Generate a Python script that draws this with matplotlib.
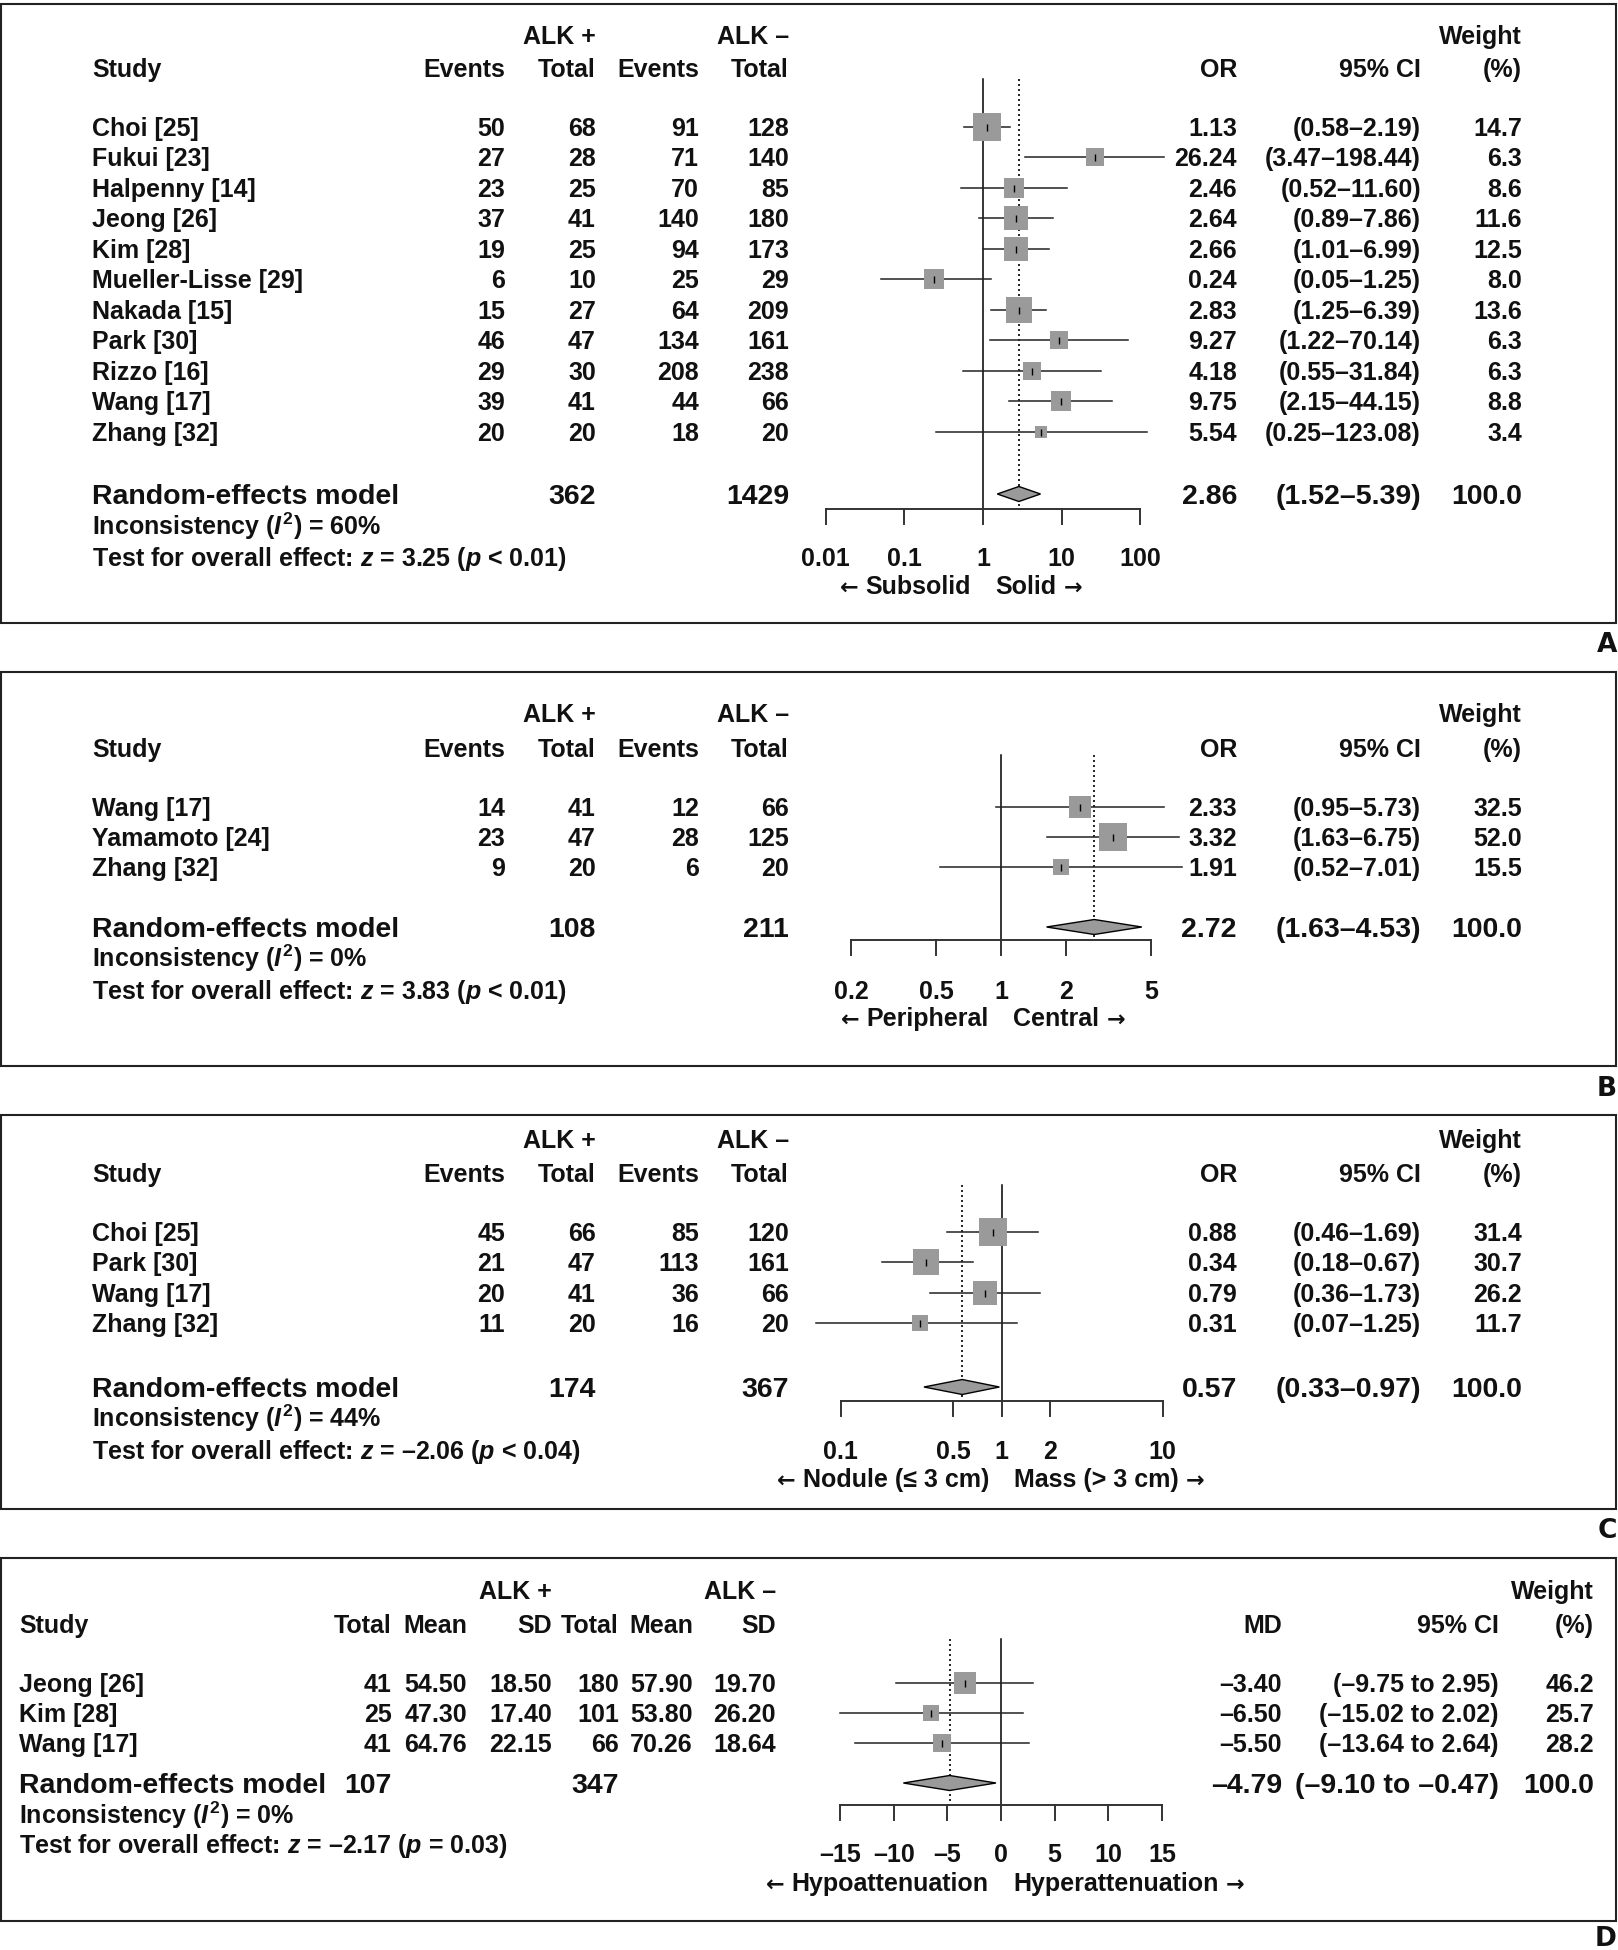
import numpy as np
import matplotlib
matplotlib.use("Agg")
import matplotlib.pyplot as plt
from matplotlib.patches import Rectangle

plt.rcParams['font.family'] = ['Liberation Sans', 'DejaVu Sans']
plt.rcParams['font.weight'] = 'bold'
plt.rcParams['mathtext.fontset'] = 'custom'
plt.rcParams['mathtext.rm'] = 'Liberation Sans:bold'
plt.rcParams['mathtext.it'] = 'Liberation Sans:italic:bold'
plt.rcParams['mathtext.bf'] = 'Liberation Sans:bold'

# ---- panel A: subsolid vs solid ----
studiesA = ["Choi [25]", "Fukui [23]", "Halpenny [14]", "Jeong [26]", "Kim [28]",
            "Mueller-Lisse [29]", "Nakada [15]", "Park [30]", "Rizzo [16]",
            "Wang [17]", "Zhang [32]"]
ev_posA = [50, 27, 23, 37, 19, 6, 15, 46, 29, 39, 20]
tot_posA = [68, 28, 25, 41, 25, 10, 27, 47, 30, 41, 20]
ev_negA = [91, 71, 70, 140, 94, 25, 64, 134, 208, 44, 18]
tot_negA = [128, 140, 85, 180, 173, 29, 209, 161, 238, 66, 20]
orA = [1.13, 26.24, 2.46, 2.64, 2.66, 0.24, 2.83, 9.27, 4.18, 9.75, 5.54]
loA = [0.58, 3.47, 0.52, 0.89, 1.01, 0.05, 1.25, 1.22, 0.55, 2.15, 0.25]
hiA = [2.19, 198.44, 11.60, 7.86, 6.99, 1.25, 6.39, 70.14, 31.84, 44.15, 123.08]
wA = [14.7, 6.3, 8.6, 11.6, 12.5, 8.0, 13.6, 6.3, 6.3, 8.8, 3.4]
sumA = [362, 1429, 2.86, 1.52, 5.39]
statsA = ["60%", "3.25", "< 0.01"]
ticksA = [0.01, 0.1, 1, 10, 100]
tlabA = ["0.01", "0.1", "1", "10", "100"]

# ---- panel B: peripheral vs central ----
studiesB = ["Wang [17]", "Yamamoto [24]", "Zhang [32]"]
ev_posB = [14, 23, 9]
tot_posB = [41, 47, 20]
ev_negB = [12, 28, 6]
tot_negB = [66, 125, 20]
orB = [2.33, 3.32, 1.91]
loB = [0.95, 1.63, 0.52]
hiB = [5.73, 6.75, 7.01]
wB = [32.5, 52.0, 15.5]
sumB = [108, 211, 2.72, 1.63, 4.53]
statsB = ["0%", "3.83", "< 0.01"]
ticksB = [0.2, 0.5, 1, 2, 5]
tlabB = ["0.2", "0.5", "1", "2", "5"]

# ---- panel C: nodule vs mass ----
studiesC = ["Choi [25]", "Park [30]", "Wang [17]", "Zhang [32]"]
ev_posC = [45, 21, 20, 11]
tot_posC = [66, 47, 41, 20]
ev_negC = [85, 113, 36, 16]
tot_negC = [120, 161, 66, 20]
orC = [0.88, 0.34, 0.79, 0.31]
loC = [0.46, 0.18, 0.36, 0.07]
hiC = [1.69, 0.67, 1.73, 1.25]
wC = [31.4, 30.7, 26.2, 11.7]
sumC = [174, 367, 0.57, 0.33, 0.97]
statsC = ["44%", "\u20132.06", "< 0.04"]
ticksC = [0.1, 0.5, 1, 2, 10]
tlabC = ["0.1", "0.5", "1", "2", "10"]

# ---- panel D: attenuation (mean difference) ----
studiesD = ["Jeong [26]", "Kim [28]", "Wang [17]"]
tot_posD = [41, 25, 41]
mean_posD = [54.50, 47.30, 64.76]
sd_posD = [18.50, 17.40, 22.15]
tot_negD = [180, 101, 66]
mean_negD = [57.90, 53.80, 70.26]
sd_negD = [19.70, 26.20, 18.64]
mdD = [-3.40, -6.50, -5.50]
loD = [-9.75, -15.02, -13.64]
hiD = [2.95, 2.02, 2.64]
wD = [46.2, 25.7, 28.2]
sumD = [107, 347, -4.79, -9.10, -0.47]
statsD = ["0%", "\u20132.17", "= 0.03"]
ticksD = [-15, -10, -5, 0, 5, 10, 15]
tlabD = ["\u201315", "\u201310", "\u20135", "0", "5", "10", "15"]

W, H, DPI = 1618, 1950, 100
FS = 18
FSB = 20.5
GRAY = '#9a9a9a'
INK = '#111111'

fig = plt.figure(figsize=(W / DPI, H / DPI), dpi=DPI)
canvas = fig.add_axes([0, 0, 1, 1])
canvas.set_xlim(0, W)
canvas.set_ylim(H, 0)
canvas.axis('off')
renderer = fig.canvas.get_renderer()


def put(x, y, s, ha='right', size=FS, **kw):
    canvas.text(x, y + 0.36 * size * DPI / 72, s, ha=ha, va='baseline',
                fontsize=size, fontweight='bold', color=INK, **kw)


def neg(v, fmt="{:.2f}"):
    return fmt.format(v).replace('-', '\u2013')


def direction(ax, null, y, word, side):
    # word next to the null line, arrow (DejaVu glyph, larger) on the outer side
    yb = y + 0.36 * FS * DPI / 72
    sign = -1 if side == 'left' else 1
    t = ax.annotate(word, (null, yb), xytext=(sign * 9, 0), textcoords='offset points',
                    ha=side == 'left' and 'right' or 'left', va='baseline',
                    fontsize=FS, fontweight='bold', color=INK)
    wpt = t.get_window_extent(renderer).width * 72 / DPI
    arrow = '\u2190' if side == 'left' else '\u2192'
    ax.annotate(arrow, (null, yb), xytext=(sign * (9 + wpt + 5), 0),
                textcoords='offset points', ha=side == 'left' and 'right' or 'left',
                va='baseline', fontsize=FS - 2, fontweight='bold', color=INK,
                family='DejaVu Sans')


def forest(top, bottom, px0, scale, log, rows_y, est, lo, hi, w, side_max,
           s_y, s, vtop, axis_y, ticks, tlabels, tick_y, dir_y, left_lab, right_lab):
    null = 1 if log else 0
    ax = fig.add_axes([620 / W, 1 - bottom / H, 700 / W, (bottom - top) / H])
    if log:
        ax.set_xscale('log')
        ax.set_xlim(10 ** ((620 - px0) / scale), 10 ** ((1320 - px0) / scale))
    else:
        ax.set_xlim((620 - px0) / scale, (1320 - px0) / scale)
    ax.set_ylim(bottom, top)
    ax.axis('off')

    wmax = max(w)
    for y, e, l, h, ww in zip(rows_y, est, lo, hi, w):
        ax.plot([l, h], [y, y], color='#222222', lw=1.1, zorder=2, clip_on=False)
        side = side_max * np.sqrt(ww / wmax) * 72 / DPI
        ax.scatter([e], [y], marker='s', s=side ** 2, color=GRAY, linewidths=0, zorder=3)
        ax.scatter([e], [y], marker='|', s=(7 * 72 / DPI) ** 2, color='black',
                   linewidths=1.0, zorder=4)

    ax.plot([null, null], [vtop, axis_y], color='black', lw=1.1, zorder=1)
    ax.plot([s[2], s[2]], [vtop, axis_y], color='black', lw=1.2,
            ls=(0, (1.2, 1.8)), zorder=1)
    ax.fill([s[3], s[2], s[4], s[2]], [s_y, s_y - 7.5, s_y, s_y + 7.5],
            facecolor=GRAY, edgecolor='black', lw=1.0, zorder=3)

    ax.plot([ticks[0], ticks[-1]], [axis_y, axis_y], color='#333333', lw=1.4)
    for t, lab in zip(ticks, tlabels):
        ax.plot([t, t], [axis_y, axis_y + 15], color='#333333', lw=1.4)
        ax.text(t, tick_y + 0.36 * FS * DPI / 72, lab, ha='center', va='baseline',
                fontsize=FS, fontweight='bold', color=INK)
    direction(ax, null, dir_y, left_lab, 'left')
    direction(ax, null, dir_y, right_lab, 'right')


def binary_panel(hdr1, hdr2, row0, step, sum_y, inc_y, test_y,
                 studies, ep, tp, en, tn, est, lo, hi, w, summ, stats):
    put(596, hdr1, "ALK +")
    put(789, hdr1, "ALK \u2013")
    put(1522, hdr1, "Weight")
    put(92, hdr2, "Study", ha='left')
    for x, lab in zip([505, 596, 699, 789, 1237, 1421, 1522],
                      ["Events", "Total", "Events", "Total", "OR", "95% CI", "(%)"]):
        put(x, hdr2, lab)
    rows_y = [row0 + i * step for i in range(len(studies))]
    for y, name, a, b, c, d, e, l, h, ww in zip(rows_y, studies, ep, tp, en, tn,
                                                est, lo, hi, w):
        put(92, y, name, ha='left')
        put(505, y, str(a))
        put(596, y, str(b))
        put(699, y, str(c))
        put(789, y, str(d))
        put(1237, y, "{:.2f}".format(e))
        put(1421, y, "({:.2f}\u2013{:.2f})".format(l, h))
        put(1522, y, "{:.1f}".format(ww))
    put(92, sum_y, "Random-effects model", ha='left', size=FSB)
    put(596, sum_y, str(summ[0]), size=FSB)
    put(789, sum_y, str(summ[1]), size=FSB)
    put(1237, sum_y, "{:.2f}".format(summ[2]), size=FSB)
    put(1421, sum_y, "({:.2f}\u2013{:.2f})".format(summ[3], summ[4]), size=FSB)
    put(1522, sum_y, "100.0", size=FSB)
    put(92, inc_y, "Inconsistency ($I^2$) = " + stats[0], ha='left')
    put(92, test_y, "Test for overall effect: $z$ = " + stats[1] + " ($p$ " + stats[2] + ")",
        ha='left')
    return rows_y


# Panel A
ryA = binary_panel(35, 68, 127, 30.47, 494, 526, 557,
                   studiesA, ev_posA, tot_posA, ev_negA, tot_negA, orA, loA, hiA, wA,
                   sumA, statsA)
forest(4, 623, 983, 78.6, True, ryA, orA, loA, hiA, wA, 27, 494, sumA,
       79, 509, ticksA, tlabA, 557, 585, "Subsolid", "Solid")

# Panel B
ryB = binary_panel(713, 748, 807, 30, 927, 958, 990,
                   studiesB, ev_posB, tot_posB, ev_negB, tot_negB, orB, loB, hiB, wB,
                   sumB, statsB)
forest(672, 1066, 1001, 214.6, True, ryB, orB, loB, hiB, wB, 27.5, 927, sumB,
       755, 940, ticksB, tlabB, 990, 1017, "Peripheral", "Central")

# Panel C
ryC = binary_panel(1139, 1173, 1232, 30.4, 1387, 1418, 1450,
                   studiesC, ev_posC, tot_posC, ev_negC, tot_negC, orC, loC, hiC, wC,
                   sumC, statsC)
forest(1115, 1509, 1001.5, 161, True, ryC, orC, loC, hiC, wC, 27, 1387, sumC,
       1185, 1401, ticksC, tlabC, 1450, 1478,
       "Nodule (\u2264 3 cm)", "Mass (> 3 cm)")

# Panel D
put(552, 1590, "ALK +")
put(776, 1590, "ALK \u2013")
put(1594, 1590, "Weight")
put(19, 1624, "Study", ha='left')
for x, lab in zip([392, 467, 552, 619, 693, 776, 1282, 1499, 1594],
                  ["Total", "Mean", "SD", "Total", "Mean", "SD", "MD", "95% CI", "(%)"]):
    put(x, 1624, lab)
ryD = [1683 + i * 30 for i in range(len(studiesD))]
for y, name, a, b, c, d, e, f, m, l, h, ww in zip(ryD, studiesD, tot_posD, mean_posD,
                                                  sd_posD, tot_negD, mean_negD, sd_negD,
                                                  mdD, loD, hiD, wD):
    put(19, y, name, ha='left')
    put(392, y, str(a))
    put(467, y, "{:.2f}".format(b))
    put(552, y, "{:.2f}".format(c))
    put(619, y, str(d))
    put(693, y, "{:.2f}".format(e))
    put(776, y, "{:.2f}".format(f))
    put(1282, y, neg(m))
    put(1499, y, "(" + neg(l) + " to " + neg(h) + ")")
    put(1594, y, "{:.1f}".format(ww))
put(19, 1783, "Random-effects model", ha='left', size=FSB)
put(392, 1783, str(sumD[0]), size=FSB)
put(619, 1783, str(sumD[1]), size=FSB)
put(1282, 1783, neg(sumD[2]), size=FSB)
put(1499, 1783, "(" + neg(sumD[3]) + " to " + neg(sumD[4]) + ")", size=FSB)
put(1594, 1783, "100.0", size=FSB)
put(19, 1815, "Inconsistency ($I^2$) = " + statsD[0], ha='left')
put(19, 1844, "Test for overall effect: $z$ = " + statsD[1] + " ($p$ " + statsD[2] + ")",
    ha='left')
forest(1558, 1921, 1001, 10.73, False, ryD, mdD, loD, hiD, wD, 22.5, 1783, sumD,
       1639, 1805, ticksD, tlabD, 1853, 1882, "Hypoattenuation", "Hyperattenuation")

# panel frames and letters
for top, bottom, letter, ly in [(4, 623, "A", 643), (672, 1066, "B", 1087),
                                (1115, 1509, "C", 1528), (1558, 1921, "D", 1937)]:
    canvas.add_patch(Rectangle((1, top), 1615, bottom - top, fill=False,
                               edgecolor='#222222', lw=1.5))
    put(1617, ly, letter, size=19, family='DejaVu Sans')

fig.savefig("out.png", dpi=DPI)
